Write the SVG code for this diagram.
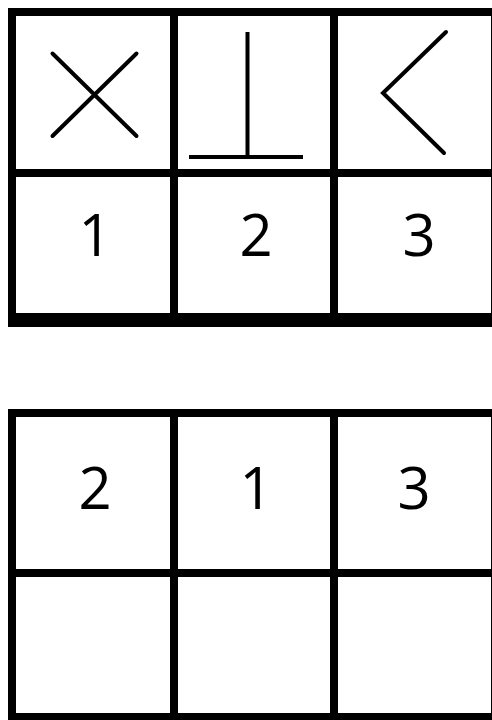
<svg xmlns="http://www.w3.org/2000/svg" width="492" height="720" viewBox="0 0 492 720">
<style>
.frame{fill:#000}
.cell{fill:#fff}
.sym{fill:none;stroke:#000;stroke-width:4;stroke-linecap:round;stroke-linejoin:miter}
.symb{fill:none;stroke:#000;stroke-width:4;stroke-linecap:butt}
.num{font-family:"Open Sans","Liberation Sans",sans-serif;font-size:58px;fill:#000;text-anchor:middle}
</style>
<rect width="492" height="720" fill="#fff"/>
<g id="top-table">
<rect class="frame" x="8" y="8" width="490" height="319"/>
<g id="t-r1-c1"><rect class="cell" x="16" y="16" width="154" height="153"/><path class="sym" d="M52.5 53.5 L136.5 136 M136.5 53.5 L52.5 136"/></g>
<g id="t-r1-c2"><rect class="cell" x="178" y="16" width="152" height="153"/><path class="symb" d="M247.5 32 V157 M189 157 H303"/></g>
<g id="t-r1-c3"><rect class="cell" x="338" y="16" width="153" height="153"/><path class="sym" d="M446 32 L383 93 L444 153"/></g>
<g id="t-r2-c1"><rect class="cell" x="16" y="177" width="154" height="136"/><text class="num" x="95" y="256">1</text></g>
<g id="t-r2-c2"><rect class="cell" x="178" y="177" width="152" height="136"/><text class="num" x="256" y="256">2</text></g>
<g id="t-r2-c3"><rect class="cell" x="338" y="177" width="153" height="136"/><text class="num" x="419" y="256">3</text></g>
</g>
<g id="bottom-table">
<rect class="frame" x="8" y="409" width="490" height="320"/>
<g id="b-r1-c1"><rect class="cell" x="16" y="417" width="154" height="152"/><text class="num" x="95" y="509">2</text></g>
<g id="b-r1-c2"><rect class="cell" x="178" y="417" width="152" height="152"/><text class="num" x="256" y="509">1</text></g>
<g id="b-r1-c3"><rect class="cell" x="338" y="417" width="153" height="152"/><text class="num" x="414" y="509">3</text></g>
<g id="b-r2-c1"><rect class="cell" x="16" y="577" width="154" height="136"/></g>
<g id="b-r2-c2"><rect class="cell" x="178" y="577" width="152" height="136"/></g>
<g id="b-r2-c3"><rect class="cell" x="338" y="577" width="153" height="136"/></g>
</g>
<g id="connectors"/>
</svg>
